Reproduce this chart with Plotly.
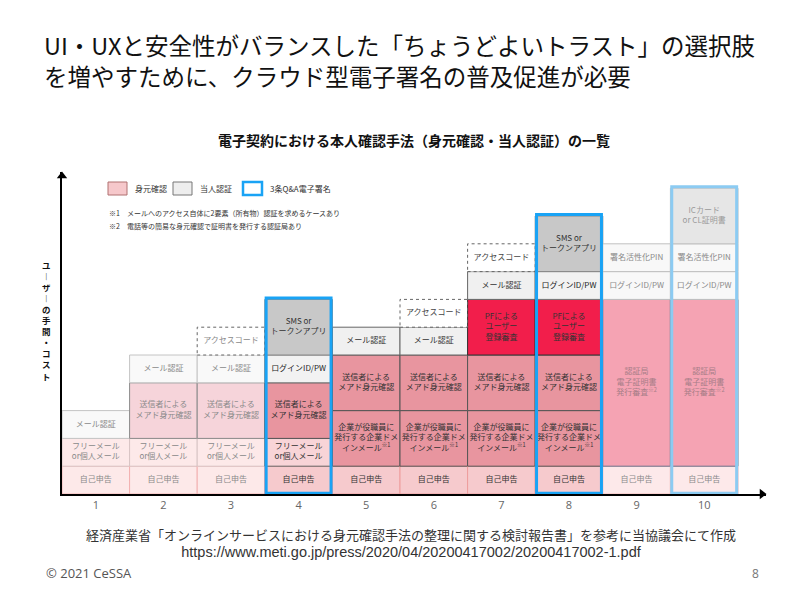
import plotly.graph_objects as go

# ---------------- data ----------------
columns = [1, 2, 3, 4, 5, 6, 7, 8, 9, 10]
tick_labels = ["1", "2", "3", "4", "5", "6", "7", "8", "9", "10"]

SELF = "自己申告"
FREE = "フリーメール<br>or個人メール"
MAILAUTH = "メール認証"
SENDER = "送信者による<br>メアド身元確認"
ACCESS = "アクセスコード"
LOGIN = "ログインID/PW"
SMS = "SMS or<br>トークンアプリ"
CORP = "企業が役職員に<br>発行する企業ドメ<br>インメール<sup>※1</sup>"
PF = "PFによる<br>ユーザー<br>登録審査"
CA = "認証局<br>電子証明書<br>発行審査<sup>※2</sup>"
PIN = "署名活性化PIN"
IC = "ICカード<br>or CL証明書"

cell_column = [1, 1, 1,
               2, 2, 2, 2,
               3, 3, 3, 3, 3,
               4, 4, 4, 4, 4,
               5, 5, 5, 5,
               6, 6, 6, 6, 6,
               7, 7, 7, 7, 7, 7,
               8, 8, 8, 8, 8, 8,
               9, 9, 9, 9,
               10, 10, 10, 10, 10]
cell_bottom = [0, 1, 2,
               0, 1, 2, 4,
               0, 1, 2, 4, 5,
               0, 1, 2, 4, 5,
               0, 1, 3, 5,
               0, 1, 3, 5, 6,
               0, 1, 3, 5, 7, 8,
               0, 1, 3, 5, 7, 8,
               0, 1, 7, 8,
               0, 1, 7, 8, 9]
cell_top = [1, 2, 3,
            1, 2, 4, 5,
            1, 2, 4, 5, 6,
            1, 2, 4, 5, 7,
            1, 3, 5, 6,
            1, 3, 5, 6, 7,
            1, 3, 5, 7, 8, 9,
            1, 3, 5, 7, 8, 10,
            1, 7, 8, 9,
            1, 7, 8, 9, 11]
cell_label = [SELF, FREE, MAILAUTH,
              SELF, FREE, SENDER, MAILAUTH,
              SELF, FREE, SENDER, MAILAUTH, ACCESS,
              SELF, FREE, SENDER, LOGIN, SMS,
              SELF, CORP, SENDER, MAILAUTH,
              SELF, CORP, SENDER, MAILAUTH, ACCESS,
              SELF, CORP, SENDER, PF, MAILAUTH, ACCESS,
              SELF, CORP, SENDER, PF, LOGIN, SMS,
              SELF, CA, LOGIN, PIN,
              SELF, CA, LOGIN, PIN, IC]

highlight_columns = [4, 8, 10]
legend_labels = ["身元確認", "当人認証", "3条Q&A電子署名"]
note_lines = ["※1　メールへのアクセス自体に2要素（所有物）認証を求めるケースあり",
              "※2　電話等の簡易な身元確認で証明書を発行する認証局あり"]
title_lines = ["UI・UXと安全性がバランスした「ちょうどよいトラスト」の選択肢",
               "を増やすために、クラウド型電子署名の普及促進が必要"]
subtitle = "電子契約における本人確認手法（身元確認・当人認証）の一覧"
y_label = "ユーザーの手間・コスト"
source_lines = ["経済産業省「オンラインサービスにおける身元確認手法の整理に関する検討報告書」を参考に当協議会にて作成",
                "https://www.meti.go.jp/press/2020/04/20200417002/20200417002-1.pdf"]
footer_left = "© 2021 CeSSA"
footer_right = "8"

# ---------------- styles ----------------
FONT = "Noto Sans CJK JP"
LIGHT_COLS = {1, 2, 3}
MUTED_COLS = {9, 10}

normal_style = {
    SELF: ("#f6cacd", "#ee9c9c", "#333333"),
    FREE: ("#f8d4d7", "#666666", "#333333"),
    MAILAUTH: ("#f0f0f0", "#666666", "#333333"),
    SENDER: ("#e8959f", "#555555", "#333333"),
    CORP: ("#e8959f", "#555555", "#333333"),
    PF: ("#f21e4b", "#333333", "#333333"),
    ACCESS: ("#ffffff", "#888888", "#444444"),
    LOGIN: ("#f2f2f2", "#777777", "#222222"),
    SMS: ("#c8c8c8", "#888888", "#333333"),
}
light_style = {
    SELF: ("#fde9e9", "#f2b0b0", "#8a8a8a"),
    FREE: ("#fde9e9", "#d8c4c4", "#8a8a8a"),
    MAILAUTH: ("#f9f9f9", "#c4c4c4", "#8a8a8a"),
    SENDER: ("#f6d4da", "#8a8a8a", "#8a8a8a"),
    ACCESS: ("#ffffff", "#999999", "#8a8a8a"),
}
muted_style = {
    SELF: ("#fde9ea", "#f2b6b6", "#8a8a8a"),
    CA: ("#f5a3b3", "#6a7890", "#a77d87"),
    LOGIN: ("#f8f8f8", "#c0c0c0", "#8a8a8a"),
    PIN: ("#f8f8f8", "#c0c0c0", "#8a8a8a"),
    IC: ("#e6e6e6", "#c0c0c0", "#9a9a9a"),
}


def style_for(col, label):
    if col in LIGHT_COLS:
        return light_style[label]
    if col in MUTED_COLS:
        return muted_style[label]
    return normal_style[label]


fills, borders, tcolors, bwidths = [], [], [], []
for c, lab in zip(cell_column, cell_label):
    f, b, t = style_for(c, lab)
    fills.append(f)
    borders.append(b)
    tcolors.append(t)
    bwidths.append(0 if lab == ACCESS else 1)

# ---------------- geometry (screen pixels; page body has an 8px margin) ----------------
OFF = 8
L, R, T, B = 62, 766, 172, 494
COL_PX = 67.6
UNIT_PX = 27.8
x_max = 0.5 + (R - L) / COL_PX
y_max = (B - T) / UNIT_PX


def px(x):
    return (x - L) / (R - L)


def py(y):
    return (B - y) / (B - T)


fig = go.Figure()
fig.add_trace(go.Bar(
    x=cell_column,
    y=[t - b for b, t in zip(cell_bottom, cell_top)],
    base=cell_bottom,
    width=[1] * len(cell_column),
    marker=dict(color=fills, line=dict(color=borders, width=bwidths)),
    hoverinfo="skip", showlegend=False,
))
fig.add_trace(go.Scatter(
    x=cell_column,
    y=[(b + t) / 2 for b, t in zip(cell_bottom, cell_top)],
    mode="text",
    text=cell_label,
    textfont=dict(family=FONT, size=8, color=tcolors),
    hoverinfo="skip", showlegend=False, cliponaxis=False,
))
# axis arrow heads
fig.add_trace(go.Scatter(
    x=[0.5, x_max - 4 / COL_PX], y=[y_max - 4 / UNIT_PX, 0],
    mode="markers",
    marker=dict(symbol=["triangle-up", "triangle-right"], size=9, color="#000000"),
    hoverinfo="skip", showlegend=False, cliponaxis=False,
))

shapes = []
for c, b, t, lab in zip(cell_column, cell_bottom, cell_top, cell_label):
    if lab == ACCESS:
        shapes.append(dict(type="rect", xref="x", yref="y", x0=c - 0.5, x1=c + 0.5, y0=b, y1=t,
                           line=dict(color="#666666", width=1, dash="dot"), layer="above"))
for hc in highlight_columns:
    top = max(t for c, t in zip(cell_column, cell_top) if c == hc)
    color = "#8ccbf2" if hc == 10 else "#19a3f5"
    shapes.append(dict(type="rect", xref="x", yref="y", x0=hc - 0.48, x1=hc + 0.48, y0=0.03, y1=top + 0.05,
                       line=dict(color=color, width=3), layer="above"))

annotations = []
annotations.append(dict(x=px(42), y=py(60.5), xref="paper", yref="paper",
                        text="<br>".join(title_lines), showarrow=False, align="left",
                        xanchor="left", yanchor="middle", font=dict(family=FONT, size=23.5, color="#111111")))
annotations.append(dict(x=px(414), y=py(140), xref="paper", yref="paper", text="<b>" + subtitle + "</b>",
                        showarrow=False, xanchor="center", yanchor="middle",
                        font=dict(family=FONT, size=14, color="#111111")))
annotations.append(dict(x=px(46), y=py(320), xref="paper", yref="paper",
                        text="<b>" + "<br>".join("︱" if ch == "ー" else ch for ch in y_label) + "</b>",
                        showarrow=False, xanchor="center", yanchor="middle",
                        font=dict(family=FONT, size=8.5, color="#111111")))
# legend
leg_x = [108, 173, 243]
leg_fill = ["#f6c8cb", "#eeeeee", "#ffffff"]
leg_line = ["#b07070", "#777777", "#19a3f5"]
leg_w = [1, 1, 2.5]
for lx, lab, f, lc, w in zip(leg_x, legend_labels, leg_fill, leg_line, leg_w):
    shapes.append(dict(type="rect", xref="paper", yref="paper", x0=px(lx), x1=px(lx + 19), y0=py(195), y1=py(182),
                       fillcolor=f, line=dict(color=lc, width=w)))
    annotations.append(dict(x=px(lx + 25), y=py(188.5), xref="paper", yref="paper", text=lab, showarrow=False,
                            xanchor="left", yanchor="middle", font=dict(family=FONT, size=8, color="#333333")))
for i, nl in enumerate(note_lines):
    annotations.append(dict(x=px(107), y=py(213 + i * 13), xref="paper", yref="paper", text=nl, showarrow=False,
                            xanchor="left", yanchor="middle", font=dict(family=FONT, size=7, color="#333333")))
source_text = (source_lines[0] + "<br><span style='font-family:Liberation Sans;font-size:14.5px'>"
               + source_lines[1] + "</span>")
annotations.append(dict(x=px(411), y=py(542), xref="paper", yref="paper", text=source_text, showarrow=False,
                        align="center", xanchor="center", yanchor="middle",
                        font=dict(family=FONT, size=13, color="#333333")))
annotations.append(dict(x=px(44), y=py(573), xref="paper", yref="paper", text=footer_left, showarrow=False,
                        xanchor="left", yanchor="middle", font=dict(family="Open Sans", size=13, color="#555555")))
annotations.append(dict(x=px(761), y=py(573), xref="paper", yref="paper", text=footer_right, showarrow=False,
                        xanchor="right", yanchor="middle", font=dict(family="Open Sans", size=12, color="#777777")))

fig.update_layout(
    width=800 - OFF, height=600 - OFF,
    margin=dict(l=L - OFF, r=800 - R, t=T - OFF, b=600 - B, pad=0),
    paper_bgcolor="#ffffff", plot_bgcolor="#ffffff",
    barmode="overlay", showlegend=False,
    shapes=shapes, annotations=annotations,
    font=dict(family=FONT),
    xaxis=dict(range=[0.5, x_max], tickvals=columns, ticktext=tick_labels,
               showline=True, linecolor="#000000", linewidth=2, showgrid=False, zeroline=False,
               ticks="", tickfont=dict(family="Open Sans", size=11, color="#666666"), fixedrange=True),
    yaxis=dict(range=[0, y_max], showline=True, linecolor="#000000", linewidth=2,
               showgrid=False, zeroline=False, showticklabels=False, ticks="", fixedrange=True),
)

fig.write_html("out.html")
